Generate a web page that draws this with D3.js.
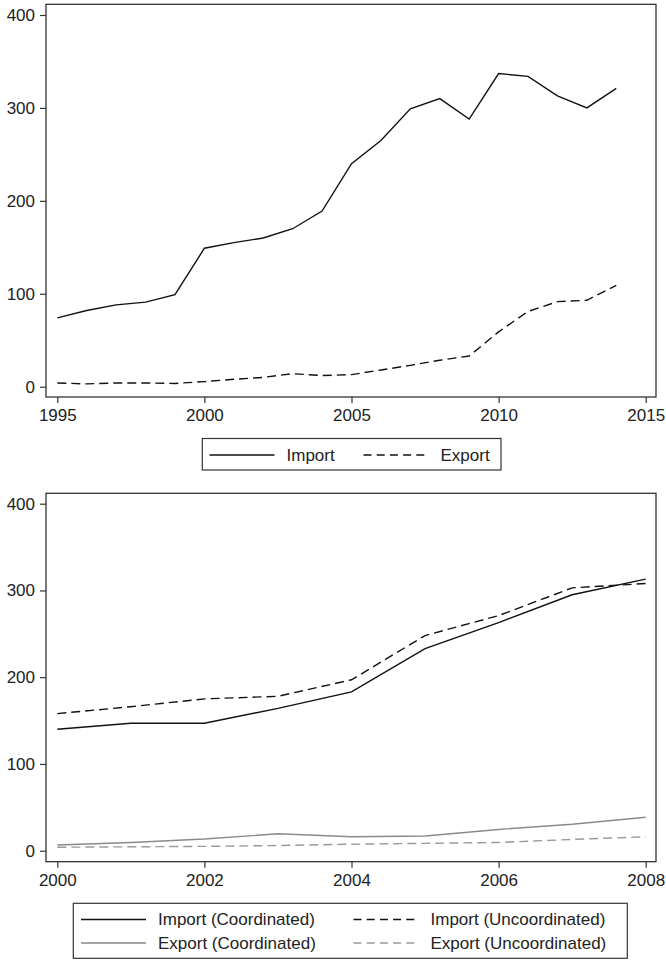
<!DOCTYPE html>
<html>
<head>
<meta charset="utf-8">
<script src="https://cdn.jsdelivr.net/npm/d3@7"></script>
<style>
  html, body { margin: 0; padding: 0; background: #fff; }
  svg { display: block; }
  text { font-family: "Liberation Sans", Arial, Helvetica, sans-serif; fill: #222; }
</style>
</head>
<body>
<script>
// ---- Panel A: annual import / export, 1995-2014 ----
const yearsA = [1995, 1996, 1997, 1998, 1999, 2000, 2001, 2002, 2003, 2004,
                2005, 2006, 2007, 2008, 2009, 2010, 2011, 2012, 2013, 2014];
const importA = [74, 82, 88, 91, 99, 149, 155, 160, 170, 189,
                 240, 265, 299, 310, 288, 337, 334, 313, 300, 321];
const exportA = [4, 3, 4, 4, 3.5, 5.5, 8, 10, 14, 12,
                 13, 18, 23, 28.5, 33, 59, 81, 91.5, 93, 109];
const xTicksA = [1995, 2000, 2005, 2010, 2015];

// ---- Panel B: coordinated vs. uncoordinated, 2000-2008 ----
const yearsB = [2000, 2001, 2002, 2003, 2004, 2005, 2006, 2007, 2008];
const importCoord = [140, 147, 147, 164, 183, 233, 263, 295, 313];
const importUncoord = [158, 166, 175, 178, 197, 248, 271, 303, 308];
const exportCoord = [6.5, 9.5, 13.5, 19.5, 16, 17, 24.5, 30.5, 38.5];
const exportUncoord = [4, 4.5, 5, 6, 7.5, 8.5, 9.5, 13, 16];
const xTicksB = [2000, 2002, 2004, 2006, 2008];

const yTicks = [0, 100, 200, 300, 400];

const W = 666, H = 960;
const svg = d3.select("body").append("svg").attr("width", W).attr("height", H);

const dashLine = "9,5";
const axisColor = "#333";

function panel(cfg) {
  const g = svg.append("g");
  const x = d3.scaleLinear().domain(cfg.xDomain).range([57.3, 645.7]);
  const y = d3.scaleLinear().domain([0, 400]).range([cfg.y0, cfg.y400]);

  // plot frame
  g.append("rect")
    .attr("x", 46).attr("y", cfg.top)
    .attr("width", 656 - 46).attr("height", cfg.bottom - cfg.top)
    .attr("fill", "none").attr("stroke", axisColor).attr("stroke-width", 1.3);

  // y axis
  const ya = g.append("g").attr("transform", "translate(46,0)")
    .call(d3.axisLeft(y).tickValues(yTicks).tickSize(6).tickPadding(5));
  ya.select(".domain").remove();
  ya.selectAll("line").attr("stroke", axisColor).attr("stroke-width", 1.2);
  ya.selectAll("text").style("font-size", "17px").attr("fill", "#222");

  // x axis
  const xa = g.append("g").attr("transform", `translate(0,${cfg.bottom})`)
    .call(d3.axisBottom(x).tickValues(cfg.xTicks).tickFormat(d3.format("d"))
      .tickSize(6).tickPadding(6));
  xa.select(".domain").remove();
  xa.selectAll("line").attr("stroke", axisColor).attr("stroke-width", 1.2);
  xa.selectAll("text").style("font-size", "17px").attr("fill", "#222");

  // series
  cfg.series.forEach(s => {
    const line = d3.line().x((d, i) => x(cfg.years[i])).y(d => y(d));
    g.append("path")
      .datum(s.values)
      .attr("d", line)
      .attr("fill", "none")
      .attr("stroke", s.color)
      .attr("stroke-width", 1.4)
      .attr("stroke-dasharray", s.dash || null);
  });

  // legend
  const lg = cfg.legend;
  g.append("rect")
    .attr("x", lg.x).attr("y", lg.y).attr("width", lg.w).attr("height", lg.h)
    .attr("fill", "#fff").attr("stroke", axisColor).attr("stroke-width", 1.2);
  lg.items.forEach(it => {
    g.append("line")
      .attr("x1", it.x).attr("x2", it.x + 65)
      .attr("y1", it.y).attr("y2", it.y)
      .attr("stroke", it.color).attr("stroke-width", 1.4)
      .attr("stroke-dasharray", it.dash ? "8,5.2" : null);
    g.append("text")
      .attr("x", it.x + 77).attr("y", it.y).attr("dy", "0.35em")
      .style("font-size", "17px")
      .text(it.label);
  });
}

panel({
  xDomain: [1995, 2015], xTicks: xTicksA, years: yearsA,
  top: 4.3, bottom: 397, y0: 386.7, y400: 15,
  series: [
    { values: importA, color: "#111" },
    { values: exportA, color: "#111", dash: dashLine }
  ],
  legend: {
    x: 202.3, y: 438.5, w: 298.7, h: 31.5,
    items: [
      { label: "Import", x: 209.5, y: 455, color: "#111" },
      { label: "Export", x: 363.5, y: 455, color: "#111", dash: true }
    ]
  }
});

panel({
  xDomain: [2000, 2008], xTicks: xTicksB, years: yearsB,
  top: 493.3, bottom: 861.7, y0: 850.7, y400: 503.7,
  series: [
    { values: importCoord, color: "#111" },
    { values: importUncoord, color: "#111", dash: dashLine },
    { values: exportCoord, color: "#8a8a8a" },
    { values: exportUncoord, color: "#9a9a9a", dash: dashLine }
  ],
  legend: {
    x: 73.3, y: 903.3, w: 554, h: 55,
    items: [
      { label: "Import (Coordinated)", x: 81, y: 919.5, color: "#111" },
      { label: "Import (Uncoordinated)", x: 353.5, y: 919.5, color: "#111", dash: true },
      { label: "Export (Coordinated)", x: 81, y: 943, color: "#8a8a8a" },
      { label: "Export (Uncoordinated)", x: 353.5, y: 943, color: "#9a9a9a", dash: true }
    ]
  }
});
</script>
</body>
</html>
